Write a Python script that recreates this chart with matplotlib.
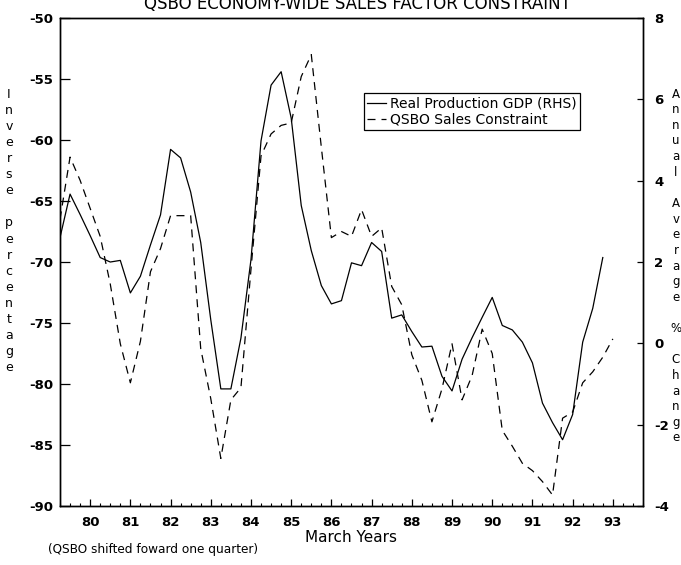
import numpy as np
import matplotlib
matplotlib.use("Agg")
import matplotlib.pyplot as plt
from matplotlib.ticker import FixedLocator, MultipleLocator

plt.rcParams['font.family'] = ['Liberation Sans Narrow', 'DejaVu Sans']
plt.rcParams['axes.unicode_minus'] = False

# Quarterly series, first quarter = June 1979 (March-year axis)
first_quarter = 79.25

# QSBO sales constraint (inverse percentage, left axis), shifted forward one quarter
qsbo = [-66.5, -61.4, -63.3, -65.6, -67.9, -71.8, -76.7, -79.9,
        -76.5, -70.8, -68.9, -66.2, -66.2, -66.2, -77.1, -81.2,
        -86.1, -81.3, -80.3, -70.6, -61.3, -59.5, -58.8, -58.6,
        -54.8, -53.0, -60.6, -68.0, -67.5, -67.9, -65.7, -67.9,
        -67.2, -72.0, -73.5, -77.6, -79.7, -83.1, -80.4, -76.7,
        -81.3, -79.3, -75.5, -77.5, -83.8, -85.1, -86.5, -87.1,
        -88.0, -89.1, -82.8, -82.3, -79.9, -79.0, -77.8, -76.3]

# Real production GDP, annual average % change (right axis)
gdp = [2.60, 3.67, 3.17, 2.65, 2.11, 2.00, 2.04, 1.24,
       1.65, 2.42, 3.16, 4.77, 4.56, 3.72, 2.48, 0.58,
       -1.12, -1.12, 0.13, 2.06, 4.98, 6.35, 6.68, 5.54,
       3.39, 2.28, 1.42, 0.97, 1.05, 1.98, 1.91, 2.48,
       2.26, 0.62, 0.70, 0.29, -0.09, -0.07, -0.81, -1.17,
       -0.39, 0.14, 0.64, 1.13, 0.44, 0.33, 0.03, -0.48,
       -1.47, -1.95, -2.37, -1.75, 0.03, 0.86, 2.11]

years = list(range(80, 94))
left_ticks = [-90, -85, -80, -75, -70, -65, -60, -55, -50]
right_ticks = [-4, -2, 0, 2, 4, 6, 8]

x_qsbo = first_quarter + 0.25 * np.arange(len(qsbo))
x_gdp = first_quarter + 0.25 * np.arange(len(gdp))

fig = plt.figure(figsize=(6.81, 5.65), dpi=100)
ax = fig.add_axes([0.0881, 0.1044, 0.8561, 0.8637])
ax2 = ax.twinx()

dash_line, = ax.plot(x_qsbo, qsbo, color='black', lw=0.9,
                     linestyle=(0, (6.4, 4.8)), label='QSBO Sales Constraint')
solid_line, = ax2.plot(x_gdp, gdp, color='black', lw=0.9,
                       label='Real Production GDP (RHS)')

ax.set_xlim(79.25, 93.75)
ax.set_ylim(-90, -50)
ax2.set_ylim(-4, 8)

# x axis: years labelled, quarters as minor ticks, all ticks pointing in
ax.xaxis.set_major_locator(FixedLocator(years))
ax.xaxis.set_minor_locator(MultipleLocator(0.25))
ax.set_xticklabels([str(y) for y in years])
ax.tick_params(axis='x', which='major', direction='in', length=5, width=0.9,
               pad=7, labelsize=9.5)
ax.tick_params(axis='x', which='minor', direction='in', length=2.5, width=0.8)
for lbl in ax.get_xticklabels():
    lbl.set_fontweight('bold')

ax.set_yticks(left_ticks)
ax.set_yticklabels([str(v) for v in left_ticks])
ax.tick_params(axis='y', direction='in', length=7, width=0.9, pad=5,
               labelsize=9.5)
for lbl in ax.get_yticklabels():
    lbl.set_fontweight('bold')

ax2.set_yticks(right_ticks)
ax2.set_yticklabels([str(v) for v in right_ticks])
ax2.tick_params(axis='y', direction='in', length=4, width=0.9, pad=8,
                labelsize=9.5)
for lbl in ax2.get_yticklabels():
    lbl.set_fontweight('bold')

for a in (ax, ax2):
    for sp in a.spines.values():
        sp.set_linewidth(1.0)

ax.set_xlabel('March Years', fontsize=11, family='DejaVu Sans', labelpad=1)

leg = ax.legend([solid_line, dash_line],
                ['Real Production GDP (RHS)', 'QSBO Sales Constraint'],
                loc='upper left', bbox_to_anchor=(364 / 681, 1 - 93 / 565),
                bbox_transform=fig.transFigure, fancybox=False,
                edgecolor='black', framealpha=1, handlelength=1.3,
                handletextpad=0.3, borderpad=0.25, labelspacing=0.15,
                borderaxespad=0,
                prop={'family': 'DejaVu Sans', 'size': 10})
leg.get_frame().set_linewidth(0.9)

fig.text(357 / 681, 1 - 4 / 565, 'QSBO ECONOMY-WIDE SALES FACTOR CONSTRAINT',
         ha='center', va='center', fontsize=12, family='DejaVu Sans')

# stacked axis titles, one letter per row
left_title = '\n'.join('Inverse percentage')
right_title = '\n'.join('Annual Average % Change')
fig.text(9 / 681, 1 - 231 / 565, left_title, ha='center', va='center',
         fontsize=9, family='DejaVu Sans', linespacing=1.305)
fig.text(676 / 681, 1 - 266 / 565, right_title, ha='center', va='center',
         fontsize=8.5, family='DejaVu Sans', linespacing=1.263)

fig.text(48 / 681, 1 - 549 / 565, '(QSBO shifted foward one quarter)',
         ha='left', va='center', fontsize=8.7, family='DejaVu Sans')

fig.savefig('out.png', dpi=100)
